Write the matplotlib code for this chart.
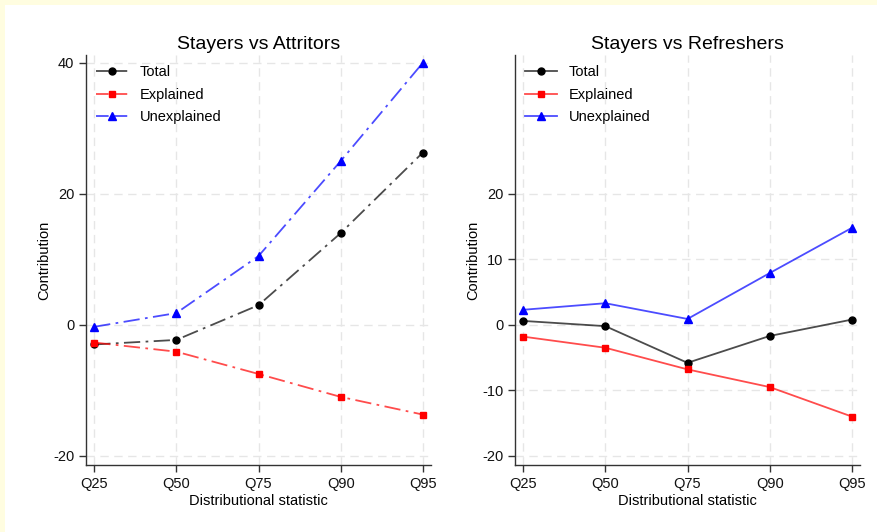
import matplotlib.pyplot as plt
from matplotlib.patches import Rectangle

plt.rcParams['font.family'] = ['Liberation Sans', 'DejaVu Sans']
plt.rcParams['axes.unicode_minus'] = False

QUANTILES = ['Q25', 'Q50', 'Q75', 'Q90', 'Q95']

# Stayers vs Attritors
ATT_TOTAL = [-3.0, -2.3, 3.0, 14.0, 26.3]
ATT_EXPLAINED = [-2.7, -4.1, -7.5, -11.0, -13.7]
ATT_UNEXPLAINED = [-0.3, 1.8, 10.5, 25.0, 40.0]

# Stayers vs Refreshers
REF_TOTAL = [0.6, -0.2, -5.8, -1.7, 0.8]
REF_EXPLAINED = [-1.8, -3.5, -6.8, -9.5, -14.0]
REF_UNEXPLAINED = [2.3, 3.3, 0.9, 7.9, 14.8]

ATT_TICKS = [-20, 0, 20, 40]
REF_TICKS = [-20, -10, 0, 10, 20]

fig = plt.figure(figsize=(8.77, 5.32), dpi=100)
fig.patch.set_facecolor('#FFFDE0')
fig.add_artist(Rectangle((5 / 877, 0), 1, (532 - 5) / 532, transform=fig.transFigure,
                         facecolor='white', edgecolor='none', zorder=-10))

bottom = (532 - 465) / 532
height = (465 - 55) / 532
ax1 = fig.add_axes([86 / 877, bottom, (431 - 86) / 877, height])
ax2 = fig.add_axes([515 / 877, bottom, (860 - 515) / 877, height])

dashdot = (0, (9, 3, 1.5, 3))


def draw(ax, total, expl, unexpl, ticks, title, ls):
    x = range(len(QUANTILES))
    series = [
        (total, 'Total', (0, 0, 0), 'o', 5),
        (expl, 'Explained', (1, 0, 0), 's', 5),
        (unexpl, 'Unexplained', (0, 0, 1), '^', 6),
    ]
    for vals, lab, col, mk, ms in series:
        ax.plot(x, vals, color=col + (0.7,), linestyle=ls, linewidth=1.3,
                marker=mk, markersize=ms, markerfacecolor=col, markeredgecolor=col,
                label=lab)
    ax.set_facecolor('none')
    ax.set_xlim(-0.1, 4.1)
    ax.set_ylim(-21.4, 41.2)
    ax.set_xticks(list(x))
    ax.set_xticklabels(QUANTILES)
    ax.set_yticks(ticks)
    ax.grid(True, color='#E6E6E6', linestyle=(0, (6, 4)), linewidth=1)
    ax.set_axisbelow(True)
    for s in ['top', 'right']:
        ax.spines[s].set_visible(False)
    for s in ['left', 'bottom']:
        ax.spines[s].set_color('#333333')
        ax.spines[s].set_linewidth(1.0)
    ax.tick_params(direction='out', length=5, width=1, color='#333333', labelsize=10.5,
                   labelcolor='#111111')
    ax.set_xlabel('Distributional statistic', fontsize=10.5, labelpad=2)
    ax.set_ylabel('Contribution', fontsize=10.5, labelpad=1.5)
    ax.set_title(title, fontsize=14, pad=4)
    leg = ax.legend(loc='upper left', frameon=False, fontsize=10.5, handlelength=2.2,
                    handletextpad=0.8, labelspacing=0.58, borderaxespad=0.3,
                    bbox_to_anchor=(0.0, 1.0))
    if ls != '-':
        for ln in leg.get_lines():
            ln.set_linestyle((0, (7, 3.3)))


draw(ax1, ATT_TOTAL, ATT_EXPLAINED, ATT_UNEXPLAINED, ATT_TICKS,
     'Stayers vs Attritors', dashdot)
draw(ax2, REF_TOTAL, REF_EXPLAINED, REF_UNEXPLAINED, REF_TICKS,
     'Stayers vs Refreshers', '-')

fig.savefig('out.png', dpi=100, facecolor=fig.get_facecolor())
